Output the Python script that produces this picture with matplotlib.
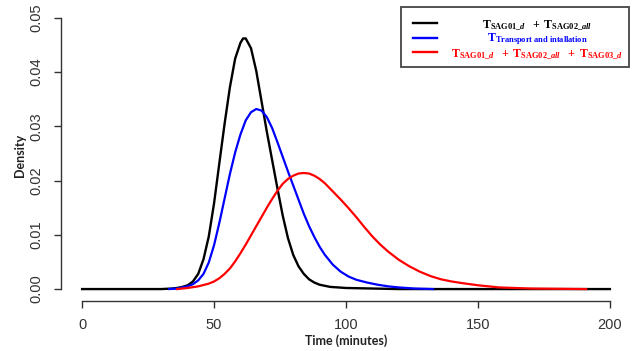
import matplotlib
matplotlib.use('Agg')
import matplotlib.pyplot as plt
from matplotlib.lines import Line2D
from matplotlib.patches import Rectangle

# density curves (time in minutes, density)
t_black = [0, 30, 34, 36, 38, 40, 42, 44, 46, 48, 50, 52, 54, 56, 58, 60, 61, 62, 64, 66,
           68, 70, 72, 74, 76, 78, 80, 82, 84, 86, 88, 90, 94, 100, 110, 120, 200]
d_black = [0, 0, 0.0001, 0.0002, 0.0004, 0.0007, 0.0014, 0.0028, 0.0055, 0.0097, 0.0158,
           0.0232, 0.0305, 0.0372, 0.0425, 0.0454, 0.0462, 0.0462, 0.0444, 0.0402, 0.0346,
           0.0290, 0.0238, 0.0186, 0.0136, 0.0094, 0.0063, 0.0042, 0.0028, 0.0018, 0.0012,
           0.0008, 0.0004, 0.0002, 0.0001, 0, 0]

t_blue = [33, 36, 38, 40, 42, 44, 46, 48, 50, 52, 54, 56, 58, 60, 62, 64, 66, 68, 70, 72,
          74, 76, 78, 80, 82, 84, 86, 88, 90, 92, 95, 98, 101, 104, 108, 112, 116, 120, 126, 133]
d_blue = [0, 0.0001, 0.0003, 0.0005, 0.0009, 0.0016, 0.0028, 0.0049, 0.0081, 0.0122, 0.0167,
          0.0212, 0.0252, 0.0285, 0.0311, 0.0326, 0.0332, 0.0329, 0.0317, 0.0297, 0.0271,
          0.0244, 0.0217, 0.0191, 0.0165, 0.0139, 0.0116, 0.0096, 0.0078, 0.0063, 0.0045,
          0.0032, 0.0023, 0.0017, 0.0012, 0.0008, 0.0005, 0.0003, 0.0001, 0]

t_red = [36, 40, 44, 48, 50, 52, 54, 56, 58, 60, 62, 64, 66, 68, 70, 72, 74, 76, 78, 80, 82,
         84, 86, 88, 90, 92, 95, 98, 101, 104, 107, 110, 113, 116, 120, 124, 128, 132, 136,
         140, 144, 150, 158, 170, 191]
d_red = [0, 0.0002, 0.0005, 0.0010, 0.0014, 0.0020, 0.0028, 0.0038, 0.0051, 0.0066, 0.0082,
         0.0099, 0.0116, 0.0133, 0.0150, 0.0166, 0.0181, 0.0194, 0.0203, 0.0209, 0.0213,
         0.0214, 0.0213, 0.0209, 0.0203, 0.0195, 0.0180, 0.0165, 0.0149, 0.0132, 0.0114,
         0.0097, 0.0082, 0.0069, 0.0054, 0.0042, 0.0032, 0.0024, 0.0018, 0.0014, 0.0011,
         0.0007, 0.0003, 0.0001, 0]

x_ticks = [0, 50, 100, 150, 200]
y_ticks = [0.00, 0.01, 0.02, 0.03, 0.04, 0.05]

legend_labels = [
    r'$\mathrm{T}_{\mathrm{SAG01\_}d}\ \ +\ \mathrm{T}_{\mathrm{SAG02\_}all}$',
    r'$\mathrm{T}_{\mathrm{Transport\ and\ intallation}}$',
    r'$\mathrm{T}_{\mathrm{SAG01\_}d}\ \ +\ \mathrm{T}_{\mathrm{SAG02\_}all}\ \ +\ \mathrm{T}_{\mathrm{SAG03\_}d}$',
]
colors = ['black', '#0000ff', '#ff0000']

plt.rcParams['mathtext.fontset'] = 'custom'
plt.rcParams['mathtext.rm'] = 'Liberation Serif:bold'
plt.rcParams['mathtext.it'] = 'Liberation Serif:bold:italic'
plt.rcParams['mathtext.bf'] = 'Liberation Serif:bold'

W, H = 634, 351
fig = plt.figure(figsize=(W / 100, H / 100), dpi=100)

def fx(px):
    return px / W

def fy(py):
    return 1 - py / H

# plot region in pixels: left 61, right 631, top 7, bottom 301
ax = fig.add_axes([fx(61), fy(301), fx(631) - fx(61), fy(7) - fy(301)])
ax.set_xlim(-8, 208)
ax.set_ylim(-0.0022, 0.052)

ax.plot(t_black, d_black, color=colors[0], lw=1.7)
ax.plot(t_blue, d_blue, color=colors[1], lw=1.6)
ax.plot(t_red, d_red, color=colors[2], lw=1.6)

for s in ['top', 'right']:
    ax.spines[s].set_visible(False)
ax.spines['left'].set_bounds(0, 0.05)
ax.spines['bottom'].set_bounds(0, 200)
for s in ['left', 'bottom']:
    ax.spines[s].set_color('#333333')
    ax.spines[s].set_linewidth(1.0)

ax.set_xticks(x_ticks)
ax.set_xticklabels([str(v) for v in x_ticks])
ax.set_yticks(y_ticks)
ax.set_yticklabels(['%.2f' % v for v in y_ticks], rotation=90, va='center')
ax.tick_params(axis='both', direction='out', length=5, width=1.0, color='#333333',
               labelcolor='#333333', labelsize=10.5)
ax.tick_params(axis='x', pad=7)
ax.tick_params(axis='y', pad=8)
for lab in ax.get_xticklabels() + ax.get_yticklabels():
    lab.set_family('Liberation Sans')

fig.text(fx(346), fy(341), 'Time (minutes)', ha='center', va='center',
         fontsize=9, fontweight='bold', family='Lato', color='#222222')
fig.text(fx(20), fy(155), 'Density', ha='center', va='center', rotation=90,
         fontsize=9, fontweight='bold', family='Lato', color='#222222')

# legend box, top right
fig.patches.append(Rectangle((fx(401), fy(67)), fx(629) - fx(401), fy(7) - fy(67),
                             transform=fig.transFigure, fill=False,
                             edgecolor='#444444', lw=1.3))
line_y = [22.5, 37.5, 51.5]
base_y = [27.5, 41.5, 56]
for i, lab in enumerate(legend_labels):
    fig.lines.append(Line2D([fx(413), fx(437)], [fy(line_y[i]), fy(line_y[i])],
                            transform=fig.transFigure, color=colors[i], lw=1.7))
    fig.text(fx(537), fy(base_y[i]), lab, ha='center', va='baseline',
             fontsize=8.6, color=colors[i])

fig.savefig('out.png', dpi=100)
